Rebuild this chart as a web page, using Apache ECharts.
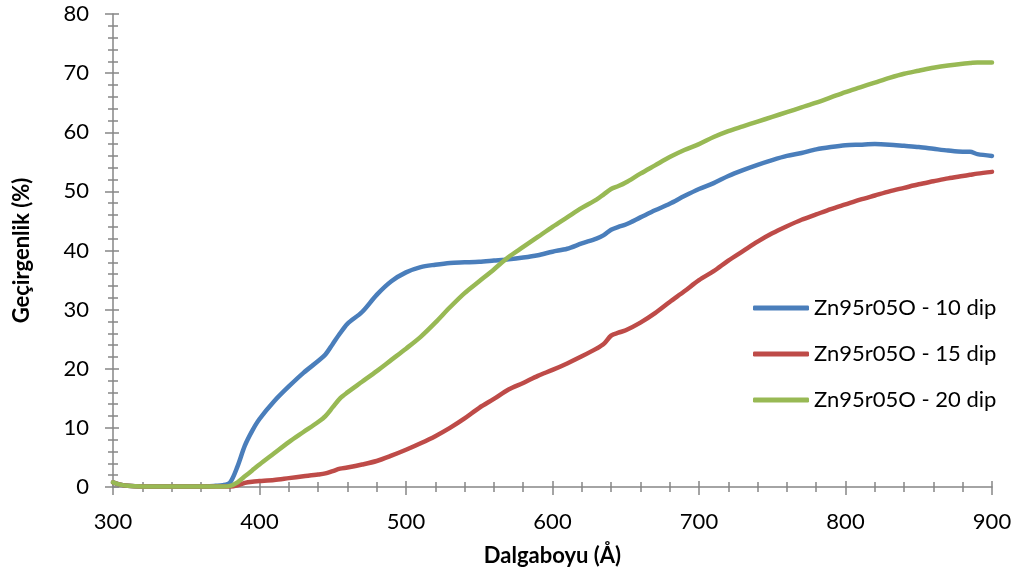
<!DOCTYPE html>
<html>
<head>
<meta charset="utf-8">
<script src="https://cdn.jsdelivr.net/npm/echarts@6/dist/echarts.min.js"></script>
<style>
  html, body { margin: 0; padding: 0; background: #fff; }
  #chart { width: 1024px; height: 582px; }
</style>
</head>
<body>
<div id="chart"></div>
<script>
// dalga boyu (x) ve geçirgenlik değerleri (%)
const wavelengths = [300, 305, 310, 320, 330, 340, 350, 360, 370, 375, 380, 385, 390, 395, 400, 410, 420, 430, 440, 445,
  450, 455, 460, 470, 480, 490, 500, 510, 520, 530, 540, 550, 560, 570, 580, 590, 600, 610, 620, 630,
  635, 640, 645, 650, 660, 670, 680, 690, 700, 710, 720, 730, 740, 750, 760, 770, 780, 790, 800, 810,
  820, 830, 840, 850, 860, 870, 880, 885, 890, 900];

const dip10 = [0.8, 0.4, 0.2, 0.1, 0.1, 0.1, 0.1, 0.1, 0.2, 0.3, 0.8, 3.5, 7, 9.5, 11.5, 14.5, 17, 19.3, 21.3, 22.4,
  24.2, 26, 27.6, 29.6, 32.5, 34.8, 36.3, 37.2, 37.6, 37.9, 38, 38.1, 38.3, 38.5, 38.8, 39.2, 39.8, 40.3, 41.2, 42,
  42.6, 43.5, 44, 44.4, 45.6, 46.8, 47.9, 49.2, 50.4, 51.4, 52.6, 53.6, 54.5, 55.3, 56, 56.5, 57.1, 57.5, 57.8, 57.9,
  58, 57.9, 57.7, 57.5, 57.2, 56.9, 56.7, 56.7, 56.3, 56];

const dip15 = [0.8, 0.4, 0.2, 0.1, 0.1, 0.1, 0.1, 0.1, 0.1, 0.1, 0.1, 0.3, 0.7, 0.9, 1.0, 1.2, 1.5, 1.8, 2.1, 2.3,
  2.7, 3.1, 3.3, 3.8, 4.4, 5.3, 6.3, 7.4, 8.6, 10, 11.6, 13.4, 14.9, 16.5, 17.6, 18.8, 19.8, 20.9, 22.1, 23.4,
  24.2, 25.6, 26.1, 26.5, 27.8, 29.4, 31.3, 33.1, 35, 36.5, 38.3, 39.9, 41.5, 42.9, 44.1, 45.2, 46.1, 47, 47.8, 48.6,
  49.3, 50, 50.6, 51.2, 51.7, 52.2, 52.6, 52.8, 53, 53.3];

const dip20 = [0.8, 0.4, 0.2, 0.1, 0.1, 0.1, 0.1, 0.1, 0.1, 0.1, 0.2, 0.8, 1.8, 2.8, 3.8, 5.7, 7.6, 9.3, 11, 12,
  13.5, 15, 16, 17.8, 19.6, 21.5, 23.4, 25.4, 27.8, 30.4, 32.8, 34.8, 36.8, 38.9, 40.6, 42.3, 44, 45.6, 47.2, 48.6,
  49.5, 50.4, 50.9, 51.5, 53, 54.4, 55.8, 57, 58, 59.2, 60.2, 61, 61.8, 62.6, 63.4, 64.2, 65, 65.9, 66.8, 67.6,
  68.4, 69.2, 69.9, 70.4, 70.9, 71.3, 71.6, 71.7, 71.8, 71.8];

const seriesNames = ['Zn95r05O - 10 dip', 'Zn95r05O - 15 dip', 'Zn95r05O - 20 dip'];
const seriesColors = ['#4a7ebb', '#be4b48', '#98b954'];

const chart = echarts.init(document.getElementById('chart'));
const font = 'Lato, "Open Sans", sans-serif';
const axisGray = '#868686';

const toPairs = (vals) => wavelengths.map((w, i) => [w, vals[i]]);

const baseX = { type: 'value', min: 300, max: 900, interval: 100, gridIndex: 0, position: 'bottom' };
const baseY = { type: 'value', min: 0, max: 80, interval: 10, gridIndex: 0, position: 'left' };

const option = {
  animation: false,
  grid: { left: 113, right: 32, top: 14, bottom: 95 },
  legend: {
    orient: 'vertical',
    left: 748,
    top: 292,
    itemWidth: 56,
    itemHeight: 5,
    itemGap: 24,
    icon: 'roundRect',
    textStyle: { fontFamily: font, fontSize: 22, color: '#000', lineHeight: 20 },
    data: seriesNames
  },
  xAxis: [
    {
      ...baseX,
      name: 'Dalgaboyu (Å)',
      nameLocation: 'middle',
      nameGap: 58,
      nameTextStyle: { fontFamily: font, fontSize: 22, fontWeight: 'bold', color: '#000' },
      axisLine: { show: true, lineStyle: { color: axisGray, width: 1.5 } },
      axisTick: { show: true, length: 8, lineStyle: { color: axisGray, width: 1.5 } },
      minorTick: { show: true, splitNumber: 5, length: 5, lineStyle: { color: axisGray, width: 1.5 } },
      axisLabel: { margin: 24, fontFamily: font, fontSize: 22, color: '#000' },
      splitLine: { show: false }
    },
    {
      ...baseX,
      axisLine: { show: false },
      axisTick: { show: true, inside: true, length: 6, lineStyle: { color: axisGray, width: 1.5 } },
      minorTick: { show: true, splitNumber: 5, length: 5, lineStyle: { color: axisGray, width: 1.5 } },
      axisLabel: { show: false },
      splitLine: { show: false }
    }
  ],
  yAxis: [
    {
      ...baseY,
      name: 'Geçirgenlik (%)',
      nameLocation: 'middle',
      nameGap: 80,
      nameRotate: 90,
      nameTextStyle: { fontFamily: font, fontSize: 22, fontWeight: 'bold', color: '#000' },
      axisLine: { show: true, lineStyle: { color: axisGray, width: 1.5 } },
      axisTick: { show: true, length: 8, lineStyle: { color: axisGray, width: 1.5 } },
      minorTick: { show: true, splitNumber: 5, length: 5, lineStyle: { color: axisGray, width: 1.5 } },
      axisLabel: { margin: 24, fontFamily: font, fontSize: 22, color: '#000' },
      splitLine: { show: false }
    },
    {
      ...baseY,
      axisLine: { show: false },
      axisTick: { show: true, inside: true, length: 6, lineStyle: { color: axisGray, width: 1.5 } },
      minorTick: { show: true, splitNumber: 5, length: 5, lineStyle: { color: axisGray, width: 1.5 } },
      axisLabel: { show: false },
      splitLine: { show: false }
    }
  ],
  series: [dip10, dip15, dip20].map((vals, i) => ({
    name: seriesNames[i],
    type: 'line',
    xAxisIndex: 0,
    yAxisIndex: 0,
    data: toPairs(vals),
    showSymbol: false,
    smooth: 0.3,
    color: seriesColors[i],
    lineStyle: { width: 4.5, color: seriesColors[i], cap: 'round', join: 'round' },
    z: 2 + i
  }))
};

chart.setOption(option);
</script>
</body>
</html>
